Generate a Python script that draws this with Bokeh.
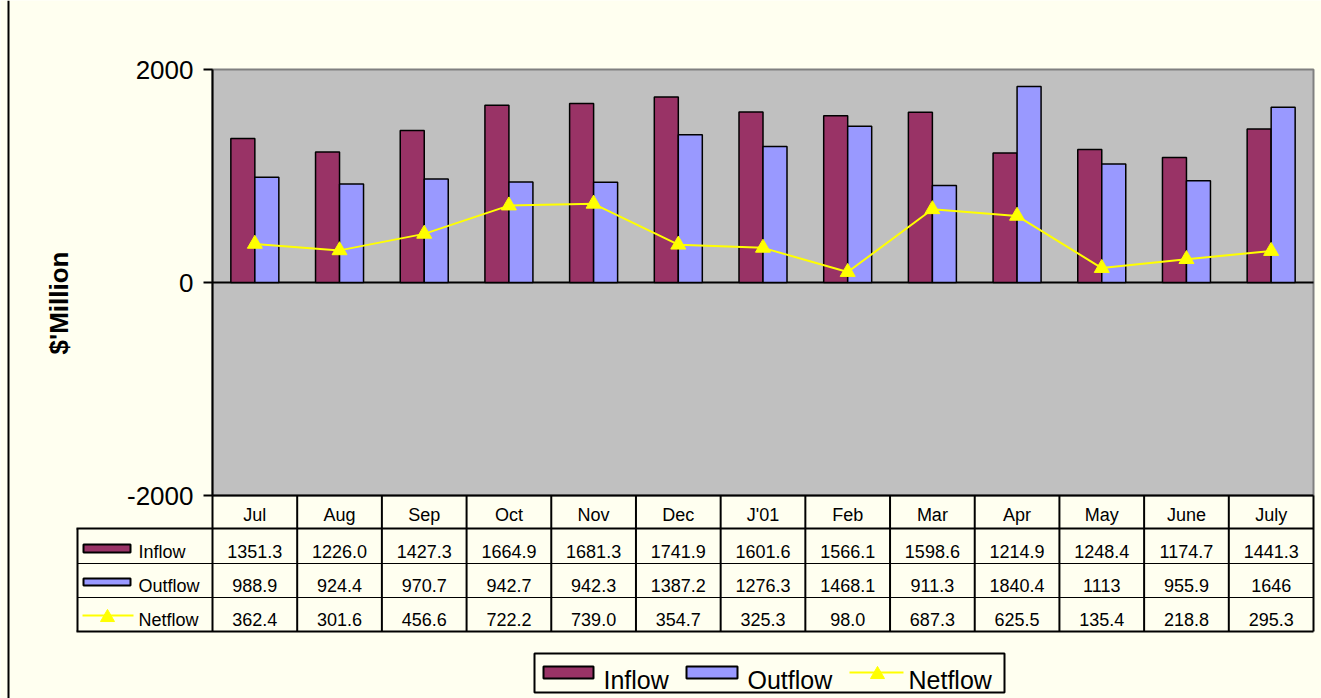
from math import pi
from bokeh.plotting import figure
from bokeh.models import (ColumnDataSource, Range1d, FixedTicker, LinearAxis, Label)
from bokeh.embed import file_html
from bokeh.resources import INLINE
from bokeh.core.properties import value

# ---------------- data ----------------
months = ["Jul", "Aug", "Sep", "Oct", "Nov", "Dec", "J'01", "Feb", "Mar", "Apr", "May", "June", "July"]
inflow = [1351.3, 1226.0, 1427.3, 1664.9, 1681.3, 1741.9, 1601.6, 1566.1, 1598.6, 1214.9, 1248.4, 1174.7, 1441.3]
outflow = [988.9, 924.4, 970.7, 942.7, 942.3, 1387.2, 1276.3, 1468.1, 911.3, 1840.4, 1113, 955.9, 1646]
netflow = [362.4, 301.6, 456.6, 722.2, 739.0, 354.7, 325.3, 98.0, 687.3, 625.5, 135.4, 218.8, 295.3]
series_names = ["Inflow", "Outflow", "Netflow"]
y_ticks = [-2000, 0, 2000]
y_tick_labels = ["-2000", "0", "2000"]
y_label = "$'Million"

# ---------------- styles / layout (pixels) ----------------
C_IN, C_OUT, C_NET = "#993366", "#9999FF", "#FFFF00"
BG, PLOT_BG, PLOT_EDGE = "#FFFFF0", "#C0C0C0", "#808080"
FONT = "Liberation Sans"
W, H = 1321, 698
PL, PR, PT, PB = 212, 1313, 69, 495        # plot area edges
Y0, Y1 = y_ticks[0], y_ticks[-1]
NCAT = len(months)
CW = (PR - PL) / NCAT
KY = (Y1 - Y0) / (PB - PT)


def X(px):  # pixel -> data x (category units)
    return (px - PL) / CW


def Y(py):  # pixel -> data y
    return Y1 - (py - PT) * KY


p = figure(width=W, height=H, x_range=Range1d(X(0), X(W)), y_range=Range1d(Y(H), Y(0)),
           output_backend="svg", toolbar_location=None, min_border=0,
           x_axis_type=None, y_axis_type=None,
           background_fill_color=BG, border_fill_color=BG, outline_line_color=None)
p.grid.visible = False

# plot area
p.quad(left=[0], right=[NCAT], bottom=[Y0], top=[Y1], fill_color=PLOT_BG,
       line_color=PLOT_EDGE, line_width=2)
p.segment(x0=[0], x1=[NCAT], y0=[0], y1=[0], line_color="black", line_width=2)

# value axis
ya = LinearAxis(fixed_location=0, bounds=(Y0, Y1), ticker=FixedTicker(ticks=y_ticks),
                major_label_overrides={t: s for t, s in zip(y_ticks, y_tick_labels)})
ya.axis_line_color = "black"
ya.axis_line_width = 2
ya.major_tick_out = 9
ya.major_tick_in = 0
ya.major_tick_line_width = 2
ya.major_tick_line_color = "black"
ya.minor_tick_line_color = None
ya.major_label_text_font = FONT
ya.major_label_text_font_size = "26px"
ya.major_label_text_color = "black"
ya.major_label_standoff = 10
p.add_layout(ya, "left")

# category axis (header row of the data table)
cat_ticks = [i + 0.5 for i in range(NCAT)]
xa = LinearAxis(fixed_location=Y0, bounds=(0, NCAT), ticker=FixedTicker(ticks=cat_ticks),
                major_label_overrides={t: m for t, m in zip(cat_ticks, months)})
xa.axis_line_color = "black"
xa.axis_line_width = 2
xa.major_tick_line_color = None
xa.minor_tick_line_color = None
xa.major_tick_out = 0
xa.major_tick_in = 0
xa.major_label_standoff = 9
xa.major_label_text_font = FONT
xa.major_label_text_font_size = "18px"
xa.major_label_text_color = "black"
p.add_layout(xa, "below")

# bars and line
bw = 24 / CW
centers = [i + 0.5 for i in range(NCAT)]
src = ColumnDataSource(dict(xc=centers, xi=[c - bw / 2 for c in centers],
                            xo=[c + bw / 2 for c in centers],
                            inflow=inflow, outflow=outflow, net=netflow))
p.vbar(x="xi", top="inflow", bottom=0, width=bw, source=src,
       fill_color=C_IN, line_color="black", line_width=1.5)
p.vbar(x="xo", top="outflow", bottom=0, width=bw, source=src,
       fill_color=C_OUT, line_color="black", line_width=1.5)
p.line(x="xc", y="net", source=src, line_color=C_NET, line_width=2)
p.scatter(x="xc", y="net", source=src, marker="triangle", size=15,
          fill_color=C_NET, line_color=C_NET)

# ---------------- data table ----------------
LEFT = 77
HDR_B = 528
ROW_B = [563, 597, 631]
CAP = 0.36          # half cap height, in em, for vertical centring of text

thick = dict(x0=[], y0=[], x1=[], y1=[])
thin = dict(x0=[], y0=[], x1=[], y1=[])


def seg(d, ax, ay, bx, by):
    d["x0"].append(ax); d["y0"].append(ay); d["x1"].append(bx); d["y1"].append(by)


seg(thick, X(LEFT - 1), Y(HDR_B), NCAT, Y(HDR_B))
seg(thick, X(LEFT - 1), Y(ROW_B[-1]), NCAT, Y(ROW_B[-1]))
seg(thick, X(LEFT), Y(HDR_B), X(LEFT), Y(ROW_B[-1]))
for k in range(NCAT + 1):
    seg(thick, k, Y0, k, Y(ROW_B[-1]))
seg(thick, X(8), Y(0), X(8), Y(H))          # chart-area border
for rb in ROW_B[:-1]:
    seg(thin, X(LEFT), Y(rb), NCAT, Y(rb))
p.segment(x0="x0", y0="y0", x1="x1", y1="y1", source=ColumnDataSource(thick),
          line_color="black", line_width=2)
p.segment(x0="x0", y0="y0", x1="x1", y1="y1", source=ColumnDataSource(thin),
          line_color="black", line_width=1)

rows = [[f"{v:.1f}" for v in inflow],
        [f"{v:g}" for v in outflow],
        [f"{v:.1f}" for v in netflow]]
tx, ty, tt = [], [], []
for r, texts in enumerate(rows):
    for k, t in enumerate(texts):
        tx.append(k + 0.5); ty.append(Y(ROW_B[r] - 6 - CAP * 18)); tt.append(t)
p.text(x="x", y="y", text="t", source=ColumnDataSource(dict(x=tx, y=ty, t=tt)),
       text_align="center", text_baseline="middle",
       text_font=value(FONT), text_font_size="18px", text_color="black")

# series keys in the table
p.quad(left=[X(83)] * 2, right=[X(130)] * 2, top=[Y(544), Y(578)], bottom=[Y(552), Y(585)],
       fill_color=[C_IN, C_OUT], line_color="black", line_width=2)
p.segment(x0=[X(82)], x1=[X(133)], y0=[Y(615)], y1=[Y(615)], line_color=C_NET, line_width=2)
p.scatter(x=[X(107)], y=[Y(617)], marker="triangle", size=14, fill_color=C_NET, line_color=C_NET)
p.text(x=[X(138)] * 3, y=[Y(b - 5 - CAP * 18) for b in ROW_B], text=series_names,
       text_align="left", text_baseline="middle",
       text_font=value(FONT), text_font_size="18px", text_color="black")

# ---------------- bottom legend ----------------
p.quad(left=[X(534)], right=[X(1004)], top=[Y(653)], bottom=[Y(692)],
       fill_color=BG, line_color="black", line_width=2)
p.quad(left=[X(543), X(686)], right=[X(593), X(737)], top=[Y(666)] * 2, bottom=[Y(678)] * 2,
       fill_color=[C_IN, C_OUT], line_color="black", line_width=2)
p.segment(x0=[X(849)], x1=[X(903)], y0=[Y(672)], y1=[Y(672)], line_color=C_NET, line_width=2)
p.scatter(x=[X(877)], y=[Y(674)], marker="triangle", size=14, fill_color=C_NET, line_color=C_NET)
p.text(x=[X(603), X(747), X(908)], y=[Y(688 - CAP * 25)] * 3, text=series_names,
       text_align="left", text_baseline="middle",
       text_font=value(FONT), text_font_size="25px", text_color="black")

# ---------------- y axis title ----------------
p.add_layout(Label(x=X(58), y=Y(302.5), text=y_label, angle=pi / 2, text_font=FONT,
                   text_font_size="26px", text_font_style="bold", text_color="black",
                   text_align="center", text_baseline="middle"))

open("out.html", "w").write(file_html(p, INLINE))
